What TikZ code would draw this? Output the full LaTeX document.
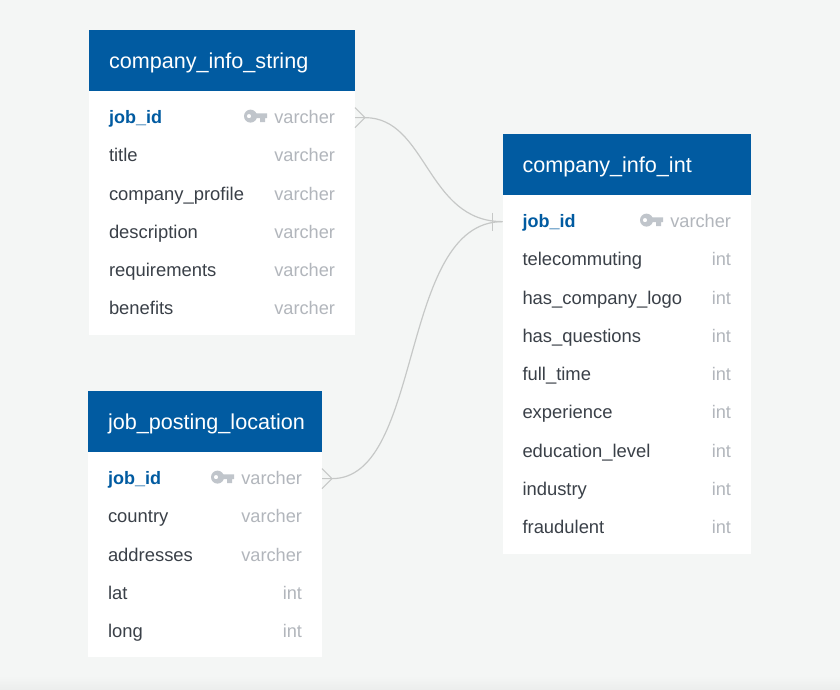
\documentclass[tikz,border=0pt]{standalone}
\usepackage{fontspec}
\setmainfont{Liberation Sans}
\usetikzlibrary{positioning, calc}
\definecolor{canvasgrey}{HTML}{F4F6F5}
\definecolor{canvasedge}{HTML}{ECEEED}
\definecolor{tablehead}{HTML}{015BA1}
\definecolor{fieldtext}{HTML}{3A4048}
\definecolor{typetext}{HTML}{B2B6BC}
\definecolor{keygrey}{HTML}{C0C5CB}
\definecolor{relgrey}{HTML}{C6C8C7}

\begin{document}
\begin{tikzpicture}[
      x=1pt, y=-1pt,
      tablehead/.style={fill=tablehead, text=white, anchor=north west, inner xsep=20pt,
        inner ysep=0pt, outer sep=0pt, minimum height=61pt, text height=16.5pt, text depth=1.5pt,
        align=left, font=\fontsize{21.6}{25}\selectfont},
      tablebody/.style={fill=white, inner sep=0pt, outer sep=0pt},
      fieldrow/.style={inner xsep=20pt, inner ysep=0pt, outer sep=0pt, minimum height=38.25pt,
        text height=14.5pt, text depth=2.5pt, align=left, text=fieldtext,
        font=\fontsize{18.4}{22}\selectfont},
      keyrow/.style={fieldrow, text=tablehead, font=\fontsize{18}{22}\bfseries\selectfont},
      fieldtype/.style={inner sep=0pt, outer sep=0pt, text height=14.5pt, text depth=2.5pt,
        text=typetext, font=\fontsize{18.2}{22}\selectfont},
      relation/.style={draw=relgrey, line width=1.2pt},
      keyicon/.pic={
        \fill[keygrey, even odd rule] (0,0) circle (6.5) (-1.5,0) circle (2.2);
        \fill[keygrey] (5,-2.8) -- (16.5,-2.8) -- (16.5,2) -- (14.5,2) -- (14.5,6)
          -- (9.5,6) -- (9.5,2) -- (5,2) -- cycle;
      }
    ]
      \fill[canvasgrey] (0,0) rectangle (840,689);
      \shade[top color=canvasgrey, bottom color=canvasedge, draw=none] (0,676) rectangle (840,689);
      \useasboundingbox (0,0) rectangle (840,689);

      % company_info_string
      \node[tablehead, text width=226pt] (strhead) at (89,30) {company\_info\_string};
      \node[tablebody, below=0pt of strhead, minimum width=266pt, minimum height=244pt] (strbody) {};
      \node[keyrow, text width=226pt, below=7.5pt of strhead] (str1) {job\_id};
      \node[fieldrow, text width=226pt, below=0pt of str1] (str2) {title};
      \node[fieldrow, text width=226pt, below=0pt of str2] (str3) {company\_profile};
      \node[fieldrow, text width=226pt, below=0pt of str3] (str4) {description};
      \node[fieldrow, text width=226pt, below=0pt of str4] (str5) {requirements};
      \node[fieldrow, text width=226pt, below=0pt of str5] (str6) {benefits};
      \node[fieldtype, left=20pt of str1.east] (str1type) {varcher};
      \node[fieldtype, left=20pt of str2.east] (str2type) {varcher};
      \node[fieldtype, left=20pt of str3.east] (str3type) {varcher};
      \node[fieldtype, left=20pt of str4.east] (str4type) {varcher};
      \node[fieldtype, left=20pt of str5.east] (str5type) {varcher};
      \node[fieldtype, left=20pt of str6.east] (str6type) {varcher};
      \pic at ($(str1.east)+(-104.5,-1.5)$) {keyicon};

      % job_posting_location
      \node[tablehead, text width=194pt] (lochead) at (88,391) {job\_posting\_location};
      \node[tablebody, below=0pt of lochead, minimum width=234pt, minimum height=205pt] (locbody) {};
      \node[keyrow, text width=194pt, below=7.5pt of lochead] (loc1) {job\_id};
      \node[fieldrow, text width=194pt, below=0pt of loc1] (loc2) {country};
      \node[fieldrow, text width=194pt, below=0pt of loc2] (loc3) {addresses};
      \node[fieldrow, text width=194pt, below=0pt of loc3] (loc4) {lat};
      \node[fieldrow, text width=194pt, below=0pt of loc4] (loc5) {long};
      \node[fieldtype, left=20pt of loc1.east] (loc1type) {varcher};
      \node[fieldtype, left=20pt of loc2.east] (loc2type) {varcher};
      \node[fieldtype, left=20pt of loc3.east] (loc3type) {varcher};
      \node[fieldtype, left=20pt of loc4.east] (loc4type) {int};
      \node[fieldtype, left=20pt of loc5.east] (loc5type) {int};
      \pic at ($(loc1.east)+(-104.5,-1.5)$) {keyicon};

      % company_info_int
      \node[tablehead, text width=208.5pt] (inthead) at (502.5,134) {company\_info\_int};
      \node[tablebody, below=0pt of inthead, minimum width=248.5pt, minimum height=359pt] (intbody) {};
      \node[keyrow, text width=208.5pt, below=7.5pt of inthead] (int1) {job\_id};
      \node[fieldrow, text width=208.5pt, below=0pt of int1] (int2) {telecommuting};
      \node[fieldrow, text width=208.5pt, below=0pt of int2] (int3) {has\_company\_logo};
      \node[fieldrow, text width=208.5pt, below=0pt of int3] (int4) {has\_questions};
      \node[fieldrow, text width=208.5pt, below=0pt of int4] (int5) {full\_time};
      \node[fieldrow, text width=208.5pt, below=0pt of int5] (int6) {experience};
      \node[fieldrow, text width=208.5pt, below=0pt of int6] (int7) {education\_level};
      \node[fieldrow, text width=208.5pt, below=0pt of int7] (int8) {industry};
      \node[fieldrow, text width=208.5pt, below=0pt of int8] (int9) {fraudulent};
      \node[fieldtype, left=20pt of int1.east] (int1type) {varcher};
      \node[fieldtype, left=20pt of int2.east] (int2type) {int};
      \node[fieldtype, left=20pt of int3.east] (int3type) {int};
      \node[fieldtype, left=20pt of int4.east] (int4type) {int};
      \node[fieldtype, left=20pt of int5.east] (int5type) {int};
      \node[fieldtype, left=20pt of int6.east] (int6type) {int};
      \node[fieldtype, left=20pt of int7.east] (int7type) {int};
      \node[fieldtype, left=20pt of int8.east] (int8type) {int};
      \node[fieldtype, left=20pt of int9.east] (int9type) {int};
      \pic at ($(int1.east)+(-104.5,-1.5)$) {keyicon};

      % relations
      \coordinate (strfoot) at ($(str1.east)+(10,0)$);
      \coordinate (locfoot) at ($(loc1.east)+(10,0)$);
      \coordinate (intbar) at ($(int1.west)+(-10,0)$);
      \draw[relation] (str1.east) -- (strfoot)
        .. controls ($(strfoot)+(62,0)$) and ($(int1.west)+(-76,0)$) .. (int1.west);
      \draw[relation] (loc1.east) -- (locfoot)
        .. controls ($(locfoot)+(92,0)$) and ($(int1.west)+(-104,0)$) .. (int1.west);
      \draw[relation] ($(str1.east)+(0,-10)$) -- (strfoot) -- ($(str1.east)+(0,10)$);
      \draw[relation] ($(loc1.east)+(0,-10)$) -- (locfoot) -- ($(loc1.east)+(0,10)$);
      \draw[relation] ($(intbar)+(0,-9)$) -- ($(intbar)+(0,9)$);
    \end{tikzpicture}
\end{document}
